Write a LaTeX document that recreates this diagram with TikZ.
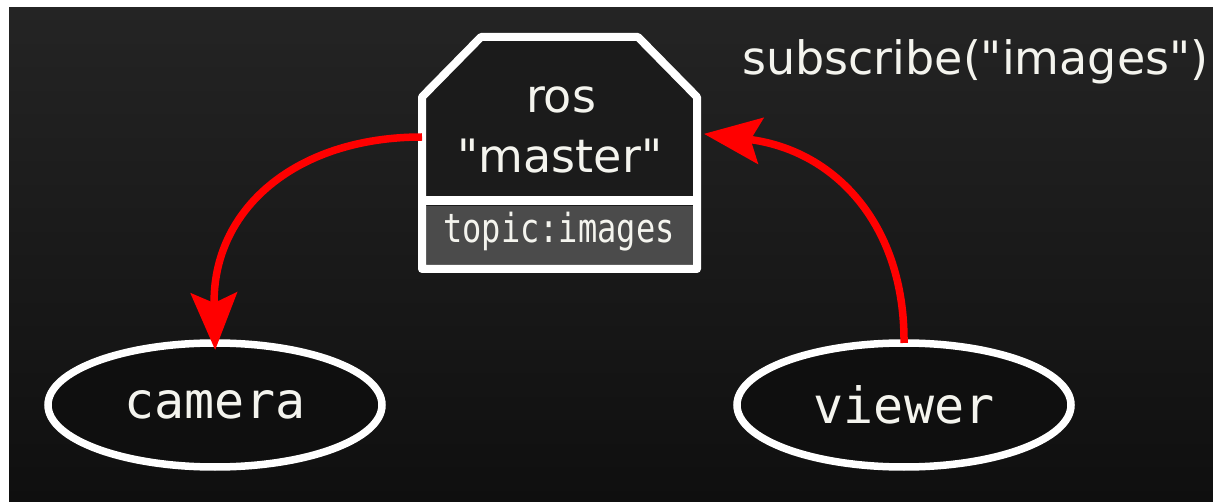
\documentclass[tikz,border=0pt]{standalone}
\usepackage{fontspec}
\setmainfont{DejaVu Sans}
\newfontfamily\monof{DejaVu Sans Mono}
\newfontfamily\monotopic{DejaVu Sans Mono}[FakeStretch=0.8]
\usetikzlibrary{shapes.geometric,arrows.meta}
\definecolor{bgtop}{HTML}{242424}
\definecolor{bgbot}{HTML}{0F0F0F}
\definecolor{boxfill}{HTML}{1B1B1B}
\definecolor{ellfill}{HTML}{0F0F0F}
\definecolor{topicfill}{HTML}{4B4B4B}
\definecolor{txt}{HTML}{F4F4EE}
\definecolor{arrred}{HTML}{FF0000}
\begin{document}
\begin{tikzpicture}[x=1pt,y=-1pt,
  ellnode/.style={ellipse,draw=white,line width=7.5pt,fill=ellfill,
    minimum width=334pt,minimum height=124pt,outer sep=0pt,inner sep=0pt,
    text=txt,font=\monof\fontsize{50}{60}\selectfont},
  conn/.style={draw=arrred,line width=7.5pt,
    -{Stealth[length=57pt,width=46pt,inset=10pt]}},
  bigtext/.style={text=txt,font=\fontsize{46}{55}\selectfont,inner sep=0pt},
  topictext/.style={text=txt,font=\monotopic\fontsize{40}{46}\selectfont,inner sep=0pt},
  outline/.style={draw=white,line width=8pt,line join=round}]
\useasboundingbox (0,0) rectangle (1213,502);
% background
\fill[white] (0,0) rectangle (1213,502);
\shade[top color=bgtop,bottom color=bgbot] (9,8) rectangle (1213,502);
% master box
\node[minimum width=275pt,minimum height=232pt,outer sep=0pt,inner sep=0pt] (master) at (559.5,153) {};
\fill[boxfill] (422,97) -- (481,37) -- (638,37) -- (697,97) -- (697,269) -- (422,269) -- cycle;
\fill[topicfill] (426,206) rectangle (693,265);
\draw[outline] (422,97) -- (481,37) -- (638,37) -- (697,97) -- (697,269) -- (422,269) -- cycle;
\draw[draw=white,line width=9pt] (422,201) -- (697,201);
\node[bigtext,anchor=base] (ros) at (561,113) {ros};
\node[bigtext,anchor=base] (mastertxt) at (560,173) {\textquotedbl master\textquotedbl};
\node[topictext,anchor=base] (topic) at (559,243) {topic:images};
% processes
\node[ellnode] (camera) at (215,405) {camera};
\node[ellnode] (viewer) at (904,405) {viewer};
% label
\node[bigtext,anchor=base west] (sub) at (742,75) {subscribe(\textquotedbl images\textquotedbl)};
% connectors
\draw[conn,shorten >=-7pt] ([yshift=16pt]master.west) .. controls (295,137) and (212,210) .. (camera.north);
\draw[conn,shorten >=7pt] (viewer.north) .. controls (905,225) and (835,150) .. ([yshift=20pt]master.east);
\end{tikzpicture}
\end{document}
